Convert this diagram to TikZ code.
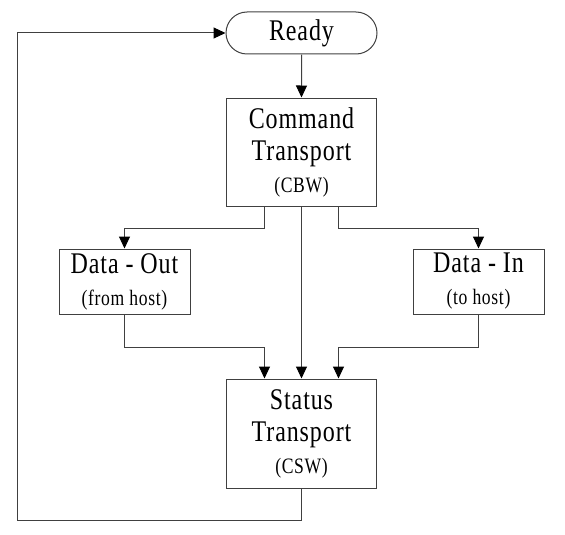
\documentclass[tikz,border=0pt]{standalone}
\usepackage{fontspec}
\setmainfont[FakeStretch=0.8,LetterSpace=3]{Liberation Serif}
\usetikzlibrary{arrows.meta,shapes.misc}

\newcommand{\bigtxt}{\fontsize{30}{32}\selectfont}
\newcommand{\subtxt}{\fontsize{22}{31}\selectfont}

\tikzset{
    box/.style={draw=black!75, line width=1pt, rectangle, align=center, inner sep=0pt, font=\bigtxt},
    pill/.style={box, rounded rectangle},
    flow/.style={draw=black!75, line width=1pt, -{Triangle[length=12pt,width=11pt,color=black]}}
}

\begin{document}
\begin{tikzpicture}[x=1pt,y=-1pt]
        \useasboundingbox (0,0) rectangle (565,535);

        \node[pill, minimum width=151pt, minimum height=42pt] (ready) at (301.5,33) {Ready};
        \node[box, minimum width=150pt, minimum height=108pt] (cmd) at (301.5,152)
            {Command\\Transport\\{\subtxt (CBW)}};
        \node[box, minimum width=131pt, minimum height=65pt] (dout) at (124.5,281.5)
            {Data - Out\\{\subtxt (from host)}};
        \node[box, minimum width=131pt, minimum height=65pt] (din) at (478.5,281.5)
            {Data - In\\{\subtxt (to host)}};
        \node[box, minimum width=150pt, minimum height=109pt] (status) at (301.5,433.5)
            {Status\\Transport\\{\subtxt (CSW)}};
        \coordinate (back) at (17,520);

        \draw[flow] (ready) -- (cmd);
        \draw[flow] ([xshift=-37pt]cmd.south) -- ++(0,22) -| (dout.north);
        \draw[flow] ([xshift=37pt]cmd.south) -- ++(0,22) -| (din.north);
        \draw[flow] (cmd) -- (status);

        \draw[flow] (dout.south) -- ++(0,33) -| ([xshift=-37pt]status.north);
        \draw[flow] (din.south) -- ++(0,33) -| ([xshift=37pt]status.north);

        \draw[flow] (status.south) |- (back) |- (ready.west);
    \end{tikzpicture}
\end{document}
